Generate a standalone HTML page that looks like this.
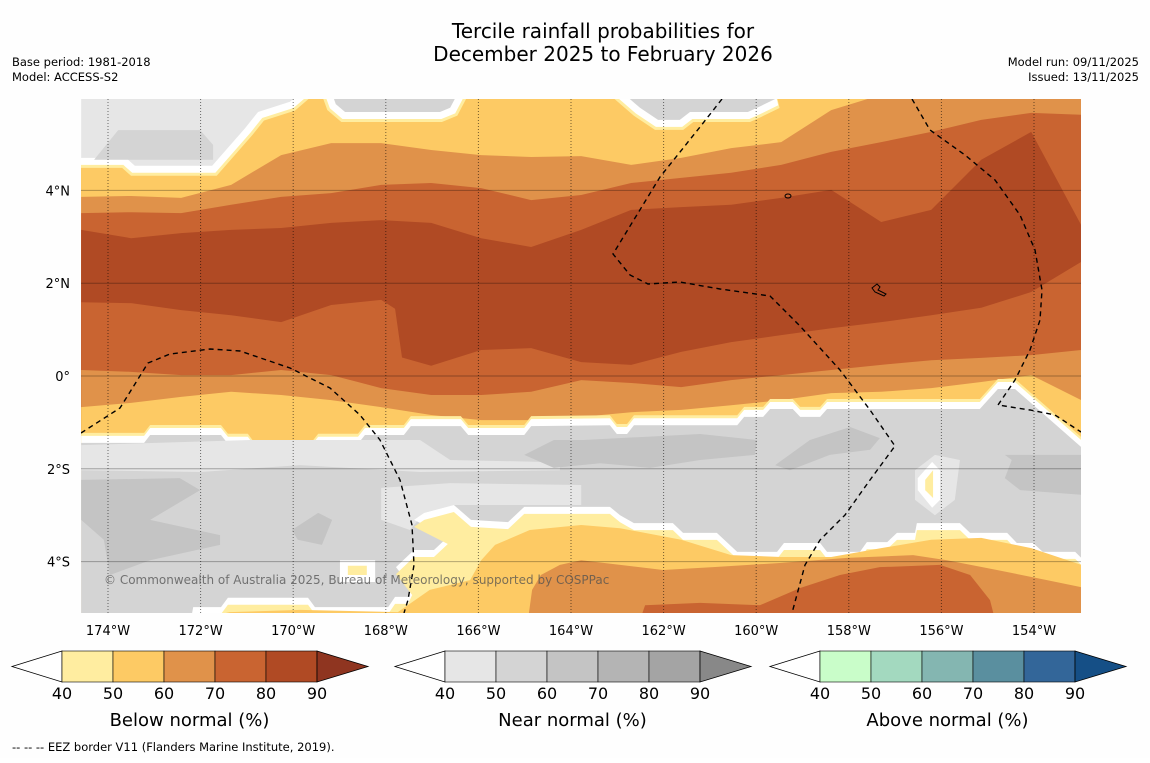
<!DOCTYPE html>
<html><head><meta charset="utf-8">
<style>
body{margin:0;background:#fff;width:1150px;height:758px;overflow:hidden;font-family:"Liberation Sans",sans-serif;}
svg text{font-family:"DejaVu Sans","Liberation Sans",sans-serif;}
</style></head><body>
<svg id="chart" width="1150" height="758" viewBox="0 0 1150 758" xmlns="http://www.w3.org/2000/svg">
<rect width="1150" height="758" fill="#fefefe"/>
<text x="603" y="38" font-size="20" text-anchor="middle" fill="#000">Tercile rainfall probabilities for</text>
<text x="603" y="61" font-size="20" text-anchor="middle" fill="#000">December 2025 to February 2026</text>
<text x="12" y="66" font-size="11.5">Base period: 1981-2018</text>
<text x="12" y="81" font-size="11.5">Model: ACCESS-S2</text>
<text x="1139" y="66" font-size="11.5" text-anchor="end">Model run: 09/11/2025</text>
<text x="1139" y="81" font-size="11.5" text-anchor="end">Issued: 13/11/2025</text>
<defs><clipPath id="mapclip"><rect x="81" y="99" width="1000" height="514"/></clipPath></defs>
<g id="map" clip-path="url(#mapclip)"></g>
<g id="axes"></g>
<g id="bars"></g>
<text x="12" y="751" font-size="11.5">--  --  -- EEZ border V11 (Flanders Marine Institute, 2019).</text>
</svg>
<script>
// ---- data ----
const gridLons = [-174.58,-173.50,-172.42,-171.34,-170.26,-169.18,-168.10,-167.02,-165.94,-164.86,-163.78,-162.70,-161.62,-160.54,-159.46,-158.38,-157.30,-156.22,-155.14,-154.06,-152.98];
const lat60top = [3.86,3.88,3.84,4.12,4.76,5.02,5.02,4.87,4.76,4.72,4.74,4.55,4.70,4.91,5.04,5.73,6.06,6.06,6.06,6.06,6.06];
const lat70top = [3.51,3.53,3.51,3.69,3.86,3.94,4.12,4.16,4.05,3.79,3.90,4.16,4.27,4.38,4.55,4.83,5.04,5.26,5.52,5.67,5.63];
const lat80top = [3.15,2.97,3.08,3.15,3.19,3.30,3.36,3.30,2.97,2.78,3.15,3.58,3.64,3.69,3.84,4.01,3.32,3.58,4.66,5.26,3.25];
const bot80Lons = [-174.58,-173.50,-172.42,-171.34,-170.26,-169.18,-168.10,-167.80,-167.65,-167.02,-165.94,-164.86,-163.78,-162.70,-161.62,-160.54,-159.46,-158.38,-157.30,-156.22,-155.14,-154.06,-152.98];
const lat80bot = [1.59,1.57,1.42,1.31,1.16,1.53,1.64,1.45,0.40,0.22,0.56,0.60,0.30,0.24,0.52,0.73,0.88,1.03,1.16,1.31,1.47,1.81,2.46];
const lat70bot = [0.13,0.09,0.02,0.02,0.13,0.02,-0.26,-0.41,-0.41,-0.34,-0.09,-0.15,-0.24,-0.09,0.02,0.13,0.24,0.34,0.39,0.45,0.56];
const lat60bot = [-0.67,-0.58,-0.45,-0.34,-0.41,-0.52,-0.67,-0.84,-0.95,-0.95,-0.88,-0.78,-0.73,-0.63,-0.52,-0.37,-0.34,-0.26,-0.13,0.02,-0.52];
const nearTopLons = [-174.58,-173.22,-173.09,-171.56,-171.41,-170.98,-170.83,-169.62,-169.46,-168.60,-168.45,-167.61,-167.46,-166.38,-166.22,-165.01,-164.86,-163.16,-163.01,-162.79,-162.64,-160.41,-160.26,-159.85,-159.70,-159.21,-159.05,-158.62,-158.47,-155.17,-154.78,-154.41,-152.98];
const nearTopLats = [-1.29,-1.29,-1.12,-1.12,-1.31,-1.31,-1.51,-1.51,-1.31,-1.31,-1.12,-1.12,-0.93,-0.93,-1.12,-1.12,-0.93,-0.91,-1.10,-1.10,-0.91,-0.91,-0.73,-0.73,-0.56,-0.56,-0.73,-0.73,-0.56,-0.56,-0.13,-0.13,-1.38];
const nearBotLons = [-174.58,-172.21,-172.16,-171.56,-171.41,-169.68,-169.53,-167.95,-167.80,-167.52,-167.43,-167.78,-167.39,-166.96,-166.66,-167.39,-167.17,-166.53,-166.16,-165.36,-165.01,-163.16,-162.94,-162.64,-161.80,-161.58,-160.85,-160.41,-159.55,-159.40,-158.62,-158.47,-157.76,-157.61,-157.17,-156.96,-156.57,-156.53,-155.60,-155.38,-154.58,-154.37,-154.02,-153.81,-153.11,-152.98];
const nearBotLats = [-5.26,-5.26,-4.98,-4.98,-4.78,-4.78,-4.98,-4.98,-4.76,-4.76,-4.57,-4.12,-3.75,-3.75,-3.47,-3.10,-2.95,-2.78,-3.10,-3.15,-2.82,-2.82,-3.00,-3.17,-3.17,-3.38,-3.38,-3.79,-3.79,-3.60,-3.60,-3.79,-3.79,-3.58,-3.58,-3.38,-3.38,-3.17,-3.17,-3.38,-3.38,-3.60,-3.60,-3.79,-3.79,-3.92];
const s50Lons = [-172.21,-171.37,-169.85,-167.74,-167.05,-166.18,-165.94,-165.64,-164.89,-163.78,-162.94,-161.62,-160.54,-159.46,-158.38,-157.30,-156.22,-155.14,-154.06,-152.98];
const s50Lats = [-5.26,-5.09,-5.04,-5.09,-4.61,-4.40,-3.97,-3.64,-3.32,-3.21,-3.28,-3.53,-3.86,-3.90,-3.90,-3.71,-3.53,-3.49,-3.71,-4.07];
const s60Lons = [-164.93,-164.84,-164.65,-164.24,-163.78,-162.01,-160.93,-159.49,-158.04,-156.61,-155.88,-154.80,-153.72,-152.98];
const s60Lats = [-5.26,-4.61,-4.29,-4.07,-3.97,-4.18,-4.12,-4.03,-3.92,-3.86,-3.97,-4.18,-4.40,-4.55];
const s70Lons = [-162.51,-162.40,-161.21,-159.92,-159.05,-158.19,-157.33,-156.03,-155.38,-154.95,-154.84];
const s70Lats = [-5.26,-4.94,-4.89,-4.94,-4.57,-4.29,-4.12,-4.07,-4.29,-4.83,-5.26];
// near-normal patches [lons, lats]
const patchTL = [[-174.58,-170.00,-170.07,-170.76,-171.04,-171.75,-173.42,-173.61,-174.58],[5.97,5.97,5.91,5.69,5.34,4.53,4.53,4.70,4.70]];
const patchTLdark = [[-174.30,-173.78,-172.01,-171.73,-171.73],[4.66,5.30,5.30,4.98,4.66]];
const patchTA = [[-169.12,-166.51,-166.61,-166.83,-168.88,-169.08],[5.97,5.97,5.78,5.69,5.69,5.86]];
const patchTB = [[-162.73,-159.59,-159.98,-160.18,-161.43,-161.65,-162.12,-162.51],[5.97,5.97,5.78,5.69,5.69,5.52,5.52,5.78]];
const lightA = [[-174.58,-170.93,-167.26,-166.61,-164.67,-164.24,-164.24,-167.26,-169.85,-172.01,-174.58],[-1.49,-1.38,-1.38,-1.81,-1.85,-1.59,-2.03,-2.07,-1.92,-2.07,-2.03]];
const lightB = [[-168.10,-166.61,-163.78,-163.78,-166.53,-167.17,-167.48,-168.10],[-2.41,-2.31,-2.35,-2.78,-2.78,-2.95,-3.32,-3.10]];
const dark1 = [[-174.58,-172.45,-172.01,-173.09,-171.58,-171.58,-173.09,-173.96,-174.09,-174.58],[-2.24,-2.20,-2.46,-3.10,-3.43,-3.64,-3.97,-4.29,-3.53,-3.10]];
const dark2 = [[-170.03,-169.46,-169.16,-169.38,-169.90],[-3.32,-2.95,-3.10,-3.64,-3.53]];
const dark3 = [[-165.01,-164.37,-163.74,-161.21,-159.98,-160.03,-161.21,-162.29,-163.37,-164.37],[-1.70,-1.38,-1.38,-1.25,-1.38,-1.70,-1.81,-1.98,-1.88,-1.98]];
const dark4 = [[-159.59,-158.84,-157.97,-157.33,-157.54,-158.41,-159.27],[-1.92,-1.38,-1.10,-1.34,-1.59,-1.70,-2.03]];
const dark5 = [[-154.63,-152.98,-152.98,-154.30,-154.63,-154.48],[-1.70,-1.70,-2.56,-2.46,-2.20,-1.81]];
const halo = [[-156.57,-156.14,-155.60,-155.71,-156.14,-156.57],[-2.03,-1.70,-1.81,-2.67,-3.00,-2.67]];
const islandW = [[-156.51,-156.20,-156.03,-156.03,-156.20,-156.51],[-2.20,-1.85,-2.03,-2.67,-2.84,-2.46]];
const islandY = [[-156.35,-156.18,-156.18,-156.35],[-2.24,-2.03,-2.63,-2.46]];
const boxW = [[-168.99,-168.23,-168.23,-168.99],[-3.97,-3.97,-4.44,-4.44]];
const boxY = [[-168.82,-168.41,-168.41,-168.82],[-4.09,-4.09,-4.29,-4.29]];
const lonTicks = [-174,-172,-170,-168,-166,-164,-162,-160,-158,-156,-154];
const lonLabels = ["174°W","172°W","170°W","168°W","166°W","164°W","162°W","160°W","158°W","156°W","154°W"];
const latTicks = [4,2,0,-2,-4];
const latLabels = ["4°N","2°N","0°","2°S","4°S"];
const cbTicks = [40,50,60,70,80,90];
const belowColors = ["#ffeda0","#fdca64","#e0924a","#c96431","#b04a24","#8f3520"];
const nearColors = ["#e6e6e6","#d4d4d4","#c4c4c4","#b4b4b4","#a4a4a4","#888888"];
const aboveColors = ["#c9fdc9","#a3d9bf","#84b6b1","#5a8f9f","#336699","#154f86"];

// ---- axes ----
const X = lon => 108 + (lon + 174) * 46.3;
const Y = lat => 376 - lat * 46.4;
const NS = "http://www.w3.org/2000/svg";
const map = document.getElementById('map');
const axes = document.getElementById('axes');
function mk(tag, parent, attrs){const e=document.createElementNS(NS,tag);for(const k in attrs)e.setAttribute(k,attrs[k]);parent.appendChild(e);return e;}
function below(lons, lats, fill, name, dy){
  dy = dy||0;
  let pts = lons.map((l,i)=>X(l)+','+(Y(lats[i])+dy));
  pts.push(X(lons[lons.length-1])+','+(Y(-6)+dy), X(lons[0])+','+(Y(-6)+dy));
  const p = mk('polygon', map, {points: pts.join(' '), fill: fill});
  
  
}
function patch(arr, fill, name, stroke, sw){
  const pts = arr[0].map((l,i)=>X(l)+','+Y(arr[1][i])).join(' ');
  const p = mk('polygon', map, {points: pts, fill: fill, stroke: stroke||'none', 'stroke-width': sw||0, 'stroke-linejoin':'miter'});
  
  
}
const bg = mk('rect', map, {x:81,y:99,width:1000,height:514,fill:belowColors[1]});


[patchTL, patchTA, patchTB].forEach((a,i)=>{patch(a, belowColors[0], 'top-patch-edge-'+i, belowColors[0], 20);});
[patchTL, patchTA, patchTB].forEach((a,i)=>{patch(a, '#ffffff', 'top-patch-white-'+i, '#ffffff', 14);});
patch(patchTL, nearColors[0], 'near-patch-top-left');
patch(patchTLdark, nearColors[1], 'near-patch-top-left-inner');
patch(patchTA, nearColors[1], 'near-patch-top-mid');
patch(patchTB, nearColors[1], 'near-patch-top-right');
below(gridLons, lat60top, belowColors[2], 'below-60-north');
below(gridLons, lat70top, belowColors[3], 'below-70-north');
below(gridLons, lat80top, belowColors[4], 'below-80-core');
below(bot80Lons, lat80bot, belowColors[3], 'below-70-south');
below(gridLons, lat70bot, belowColors[2], 'below-60-south');
below(gridLons, lat60bot, belowColors[1], 'below-50-south');
below(nearTopLons, nearTopLats, belowColors[0], 'below-40-edge', -3);
below(nearTopLons, nearTopLats, '#ffffff', 'white-40-contour-north', 0);
below(nearTopLons, nearTopLats, nearColors[1], 'near-normal-band', 7);
patch(lightA, nearColors[0], 'near-40-patch-a');
patch(lightB, nearColors[0], 'near-40-patch-b');
[dark1,dark2,dark3,dark4,dark5].forEach((a,i)=>patch(a, nearColors[2], 'near-60-patch-'+(i+1)));
patch(halo, nearColors[0], 'near-40-halo');
patch(islandW, '#ffffff', 'white-island');
patch(islandY, belowColors[0], 'below-40-island');
patch(boxW, '#ffffff', 'white-box');
patch(boxY, belowColors[0], 'below-40-box');
below(nearBotLons, nearBotLats, '#ffffff', 'white-40-contour-south', 0);
below(nearBotLons, nearBotLats, belowColors[0], 'below-40-south', 7);
below(s50Lons, s50Lats, belowColors[1], 'below-50-far-south');
below(s60Lons, s60Lats, belowColors[2], 'below-60-far-south');
below(s70Lons, s70Lats, belowColors[3], 'below-70-far-south');

lonTicks.forEach((lon,i)=>{
  const l = mk('line', map, {x1:X(lon),x2:X(lon),y1:99,y2:613,stroke:'rgba(0,0,0,0.55)','stroke-width':1,'stroke-dasharray':'1,2'});
  
  
  const t = mk('text', axes, {x:X(lon),y:635,'font-size':13,'text-anchor':'middle',fill:'#000'});
  t.textContent = lonLabels[i];
  
  
});
latTicks.forEach((lat,i)=>{
  const l = mk('line', map, {x1:81,x2:1081,y1:Y(lat),y2:Y(lat),stroke:'rgba(0,0,0,0.3)','stroke-width':1});
  
  
  const t = mk('text', axes, {x:70,y:Y(lat)+5,'font-size':13,'text-anchor':'end',fill:'#000'});
  t.textContent = latLabels[i];
  
  
});
const eez = [
 "81,433 120,408 148,363 170,354 210,349 240,351 290,368 330,388 360,415 380,440 400,480 412,525 414,565 408,600 404,613",
 "722,99 700,127 660,177 613,254 630,275 648,284 680,282 720,289 770,296 800,326 840,370 870,410 895,446 870,480 845,515 820,540 805,565 792,613",
 "912,99 930,130 965,155 995,180 1020,215 1035,250 1042,290 1040,320 1030,350 1015,380 998,405 1030,410 1055,415 1081,432"];
eez.forEach(p=>{
  const e = mk('polyline', map, {points:p,fill:'none',stroke:'#000','stroke-width':1.4,'stroke-dasharray':'5,4'});
  
  
});
const isl = mk('path', map, {d:'M872,288 l5,-4 l3,3 l-2,3 l8,4 l-2,2 l-9,-4 z M785,196 a3,2 0 1 0 6,0 a3,2 0 1 0 -6,0',fill:'none',stroke:'#000','stroke-width':1});


const cp = mk('text', map, {x:104,y:584,'font-size':12,fill:'rgba(80,80,80,0.75)'});
cp.textContent = '© Commonwealth of Australia 2025, Bureau of Meteorology, supported by COSPPac';



const barsG = document.getElementById('bars');
const bars = [[12,belowColors,'Below normal (%)','below'],[395,nearColors,'Near normal (%)','near'],[770,aboveColors,'Above normal (%)','above']];
bars.forEach(([x0,cols,title,key])=>{
  const bx = x0+50, w = 51, y0 = 651, h = 31;
  const lt = mk('polygon', barsG, {points:`${bx},${y0} ${x0},${y0+h/2} ${bx},${y0+h}`,fill:'#fff',stroke:'#000','stroke-width':0.8});
  
  
  for(let i=0;i<5;i++){
    const r = mk('rect', barsG, {x:bx+i*w,y:y0,width:w,height:h,fill:cols[i],stroke:'#000','stroke-width':0.6});
    
    
  }
  const rt = mk('polygon', barsG, {points:`${bx+5*w},${y0} ${bx+5*w+51},${y0+h/2} ${bx+5*w},${y0+h}`,fill:cols[5],stroke:'#000','stroke-width':0.8});
  
  
  cbTicks.forEach((v,i)=>{
    const t = mk('text', barsG, {x:bx+i*w,y:699,'font-size':16,'text-anchor':'middle'});
    t.textContent = v;
    
    
  });
  const tt = mk('text', barsG, {x:bx+2.5*w,y:726,'font-size':18,'text-anchor':'middle'});
  tt.textContent = title;
  
  
});
</script>
</body></html>
